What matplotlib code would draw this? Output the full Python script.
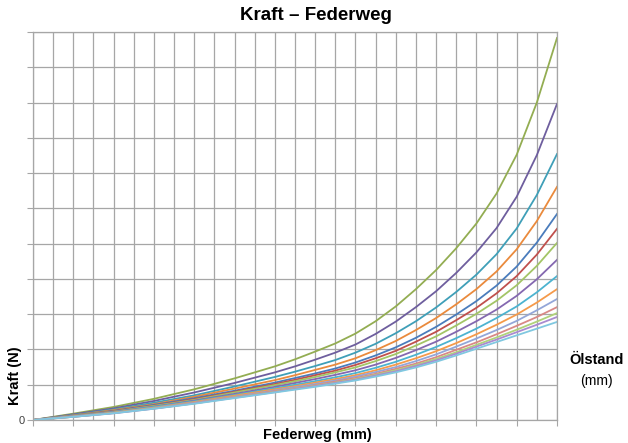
import numpy as np
import matplotlib.pyplot as plt

plt.rcParams['font.family'] = ['Liberation Sans', 'DejaVu Sans']

# Federweg (mm)
weg = [0, 10, 20, 30, 40, 50, 60, 65, 70, 75, 80, 85, 90, 95, 100, 105, 110, 115, 120, 125, 130]

# Kraft (N), one curve per Ölstand, from highest to lowest
kraft_1 = [0, 18, 37, 60, 87, 118, 152, 172, 194, 217, 245, 280, 322, 371, 425, 487, 557, 642, 752, 900, 1083]
kraft_2 = [0, 16, 33, 54, 78, 105, 135, 152, 171, 191, 214, 244, 279, 320, 365, 417, 475, 544, 633, 751, 896]
kraft_3 = [0, 14, 30, 49, 70, 95, 122, 137, 153, 170, 191, 216, 246, 280, 319, 363, 412, 470, 543, 638, 754]
kraft_4 = [0, 13, 28, 45, 66, 89, 113, 127, 142, 157, 175, 198, 224, 255, 289, 328, 371, 421, 484, 564, 661]
kraft_5 = [0, 12, 26, 43, 62, 83, 106, 119, 132, 146, 163, 183, 206, 233, 264, 299, 337, 381, 435, 503, 584]
kraft_6 = [0, 12, 25, 41, 59, 80, 102, 114, 127, 140, 156, 175, 196, 222, 250, 283, 318, 359, 408, 469, 542]
kraft_7 = [0, 12, 24, 40, 57, 78, 99, 110, 122, 135, 149, 167, 187, 211, 237, 268, 301, 338, 382, 437, 502]
kraft_8 = [0, 11, 23, 38, 55, 74, 94, 105, 116, 128, 141, 157, 176, 198, 222, 250, 280, 313, 352, 399, 454]
kraft_9 = [0, 10, 22, 37, 53, 71, 90, 100, 110, 121, 133, 148, 165, 185, 207, 232, 259, 289, 322, 362, 408]
kraft_10 = [0, 10, 21, 35, 51, 69, 87, 96, 106, 116, 127, 141, 157, 175, 195, 218, 243, 270, 299, 333, 371]
kraft_11 = [0, 10, 20, 34, 49, 66, 84, 93, 102, 112, 123, 136, 150, 167, 186, 208, 231, 255, 281, 311, 343]
kraft_12 = [0, 9, 20, 33, 48, 65, 82, 90, 99, 109, 119, 131, 145, 160, 178, 199, 220, 243, 267, 292, 320]
kraft_13 = [0, 9, 20, 33, 47, 64, 80, 89, 97, 106, 116, 128, 141, 156, 173, 192, 213, 234, 256, 279, 303]
kraft_14 = [0, 9, 19, 32, 47, 63, 79, 88, 96, 105, 114, 126, 138, 153, 169, 188, 208, 228, 249, 270, 292]
kraft_15 = [0, 9, 19, 32, 46, 62, 78, 86, 94, 103, 112, 123, 135, 149, 165, 183, 202, 221, 240, 259, 278]

kurven = [kraft_1, kraft_2, kraft_3, kraft_4, kraft_5, kraft_6, kraft_7, kraft_8,
          kraft_9, kraft_10, kraft_11, kraft_12, kraft_13, kraft_14, kraft_15]

farben = ['#93ad52', '#6e5e9e', '#3f9fb8', '#ea8a3c', '#4a7cbc', '#c0504d',
          '#a3c566', '#8468b0', '#4cb3d0', '#f59a4a', '#93a6d8', '#d98986',
          '#b0d27a', '#a98bd0', '#80c8e0']

fig = plt.figure(figsize=(6.28, 4.43), dpi=100)
ax = fig.add_axes([33 / 628, 23 / 443, 524 / 628, 388 / 443])

for k, c in zip(kurven, farben):
    ax.plot(weg, k, color=c, lw=1.3)

ax.set_xlim(0, 130)
ax.set_ylim(0, 1100)

# grid: vertical every 5 mm, horizontal every 100 N
ax.set_xticks(np.arange(0, 131, 10))
ax.set_xticks(np.arange(0, 131, 5), minor=True)
ax.set_yticks(np.arange(0, 1101, 100))
ax.set_xticklabels([])
ax.set_yticklabels(['0'] + [''] * 11)
ax.grid(which='both', color='#a6a6a6', lw=0.9)
ax.set_axisbelow(True)

for s in ax.spines.values():
    s.set_color('#a6a6a6')
    s.set_linewidth(0.9)

ax.tick_params(axis='x', which='major', length=4, color='#a6a6a6')
ax.tick_params(axis='x', which='minor', length=0)
ax.tick_params(axis='y', length=4, color='#a6a6a6', labelsize=8,
               labelcolor='#404040', pad=2)
ax.tick_params(top=False, right=False)

fig.text(0.503, 0.966, 'Kraft – Federweg', ha='center', va='center',
         fontsize=13.5, fontweight='bold')
fig.text(0.505, 0.018, 'Federweg (mm)', ha='center', va='center',
         fontsize=10.5, fontweight='bold')
fig.text(0.024, 0.153, 'Kraft (N)', ha='center', va='center', rotation=90,
         fontsize=10.5, fontweight='bold')
fig.text(597 / 628, 1 - 360 / 443, 'Ölstand', ha='center', va='center',
         fontsize=10.5, fontweight='bold')
fig.text(596 / 628, 1 - 381 / 443, '(mm)', ha='center', va='center',
         fontsize=10)

fig.savefig('out.png', dpi=100)
